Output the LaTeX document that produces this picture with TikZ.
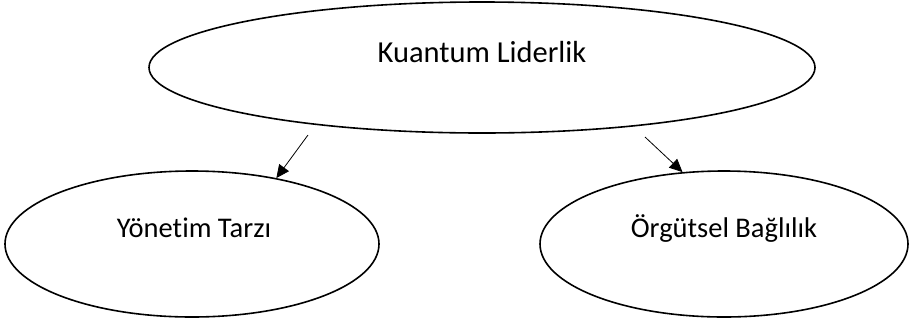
\documentclass[tikz,border=0pt]{standalone}
\usepackage{fontspec}
\setmainfont{Carlito}[Ligatures=NoCommon]
\usetikzlibrary{shapes.geometric, arrows.meta}

\begin{document}
\begin{tikzpicture}[x=1pt, y=-1pt,
  oval/.style={draw, ellipse, line width=1.6pt, inner sep=0pt},
  caption/.style={anchor=base, font=\fontsize{28.5}{34}\selectfont},
  link/.style={line width=0.8pt, -{Triangle[length=13pt, width=12pt]}}]
  \useasboundingbox (0,0) rectangle (909,322);
  % ellipses
  \node[oval, minimum width=666pt, minimum height=131pt] (kl) at (482, 67.5) {};
  \node[oval, minimum width=374pt, minimum height=146pt] (yt) at (192, 244) {};
  \node[oval, minimum width=368pt, minimum height=146pt] (ob) at (724, 244) {};
  % texts
  \node[caption, font=\fontsize{30.5}{36}\selectfont] (kltext) at (482, 62) {Kuantum Liderlik};
  \node[caption] (yttext) at (194, 237) {Yönetim Tarzı};
  \node[caption] (obtext) at (724, 237) {Örgütsel Bağlılık};
  % arrows
  \coordinate (ytfrom) at (308, 135);
  \coordinate (obfrom) at (645, 137);
  \draw[link] (ytfrom) -- (yt.38);
  \draw[link] (obfrom) -- (ob.120);
\end{tikzpicture}
\end{document}
